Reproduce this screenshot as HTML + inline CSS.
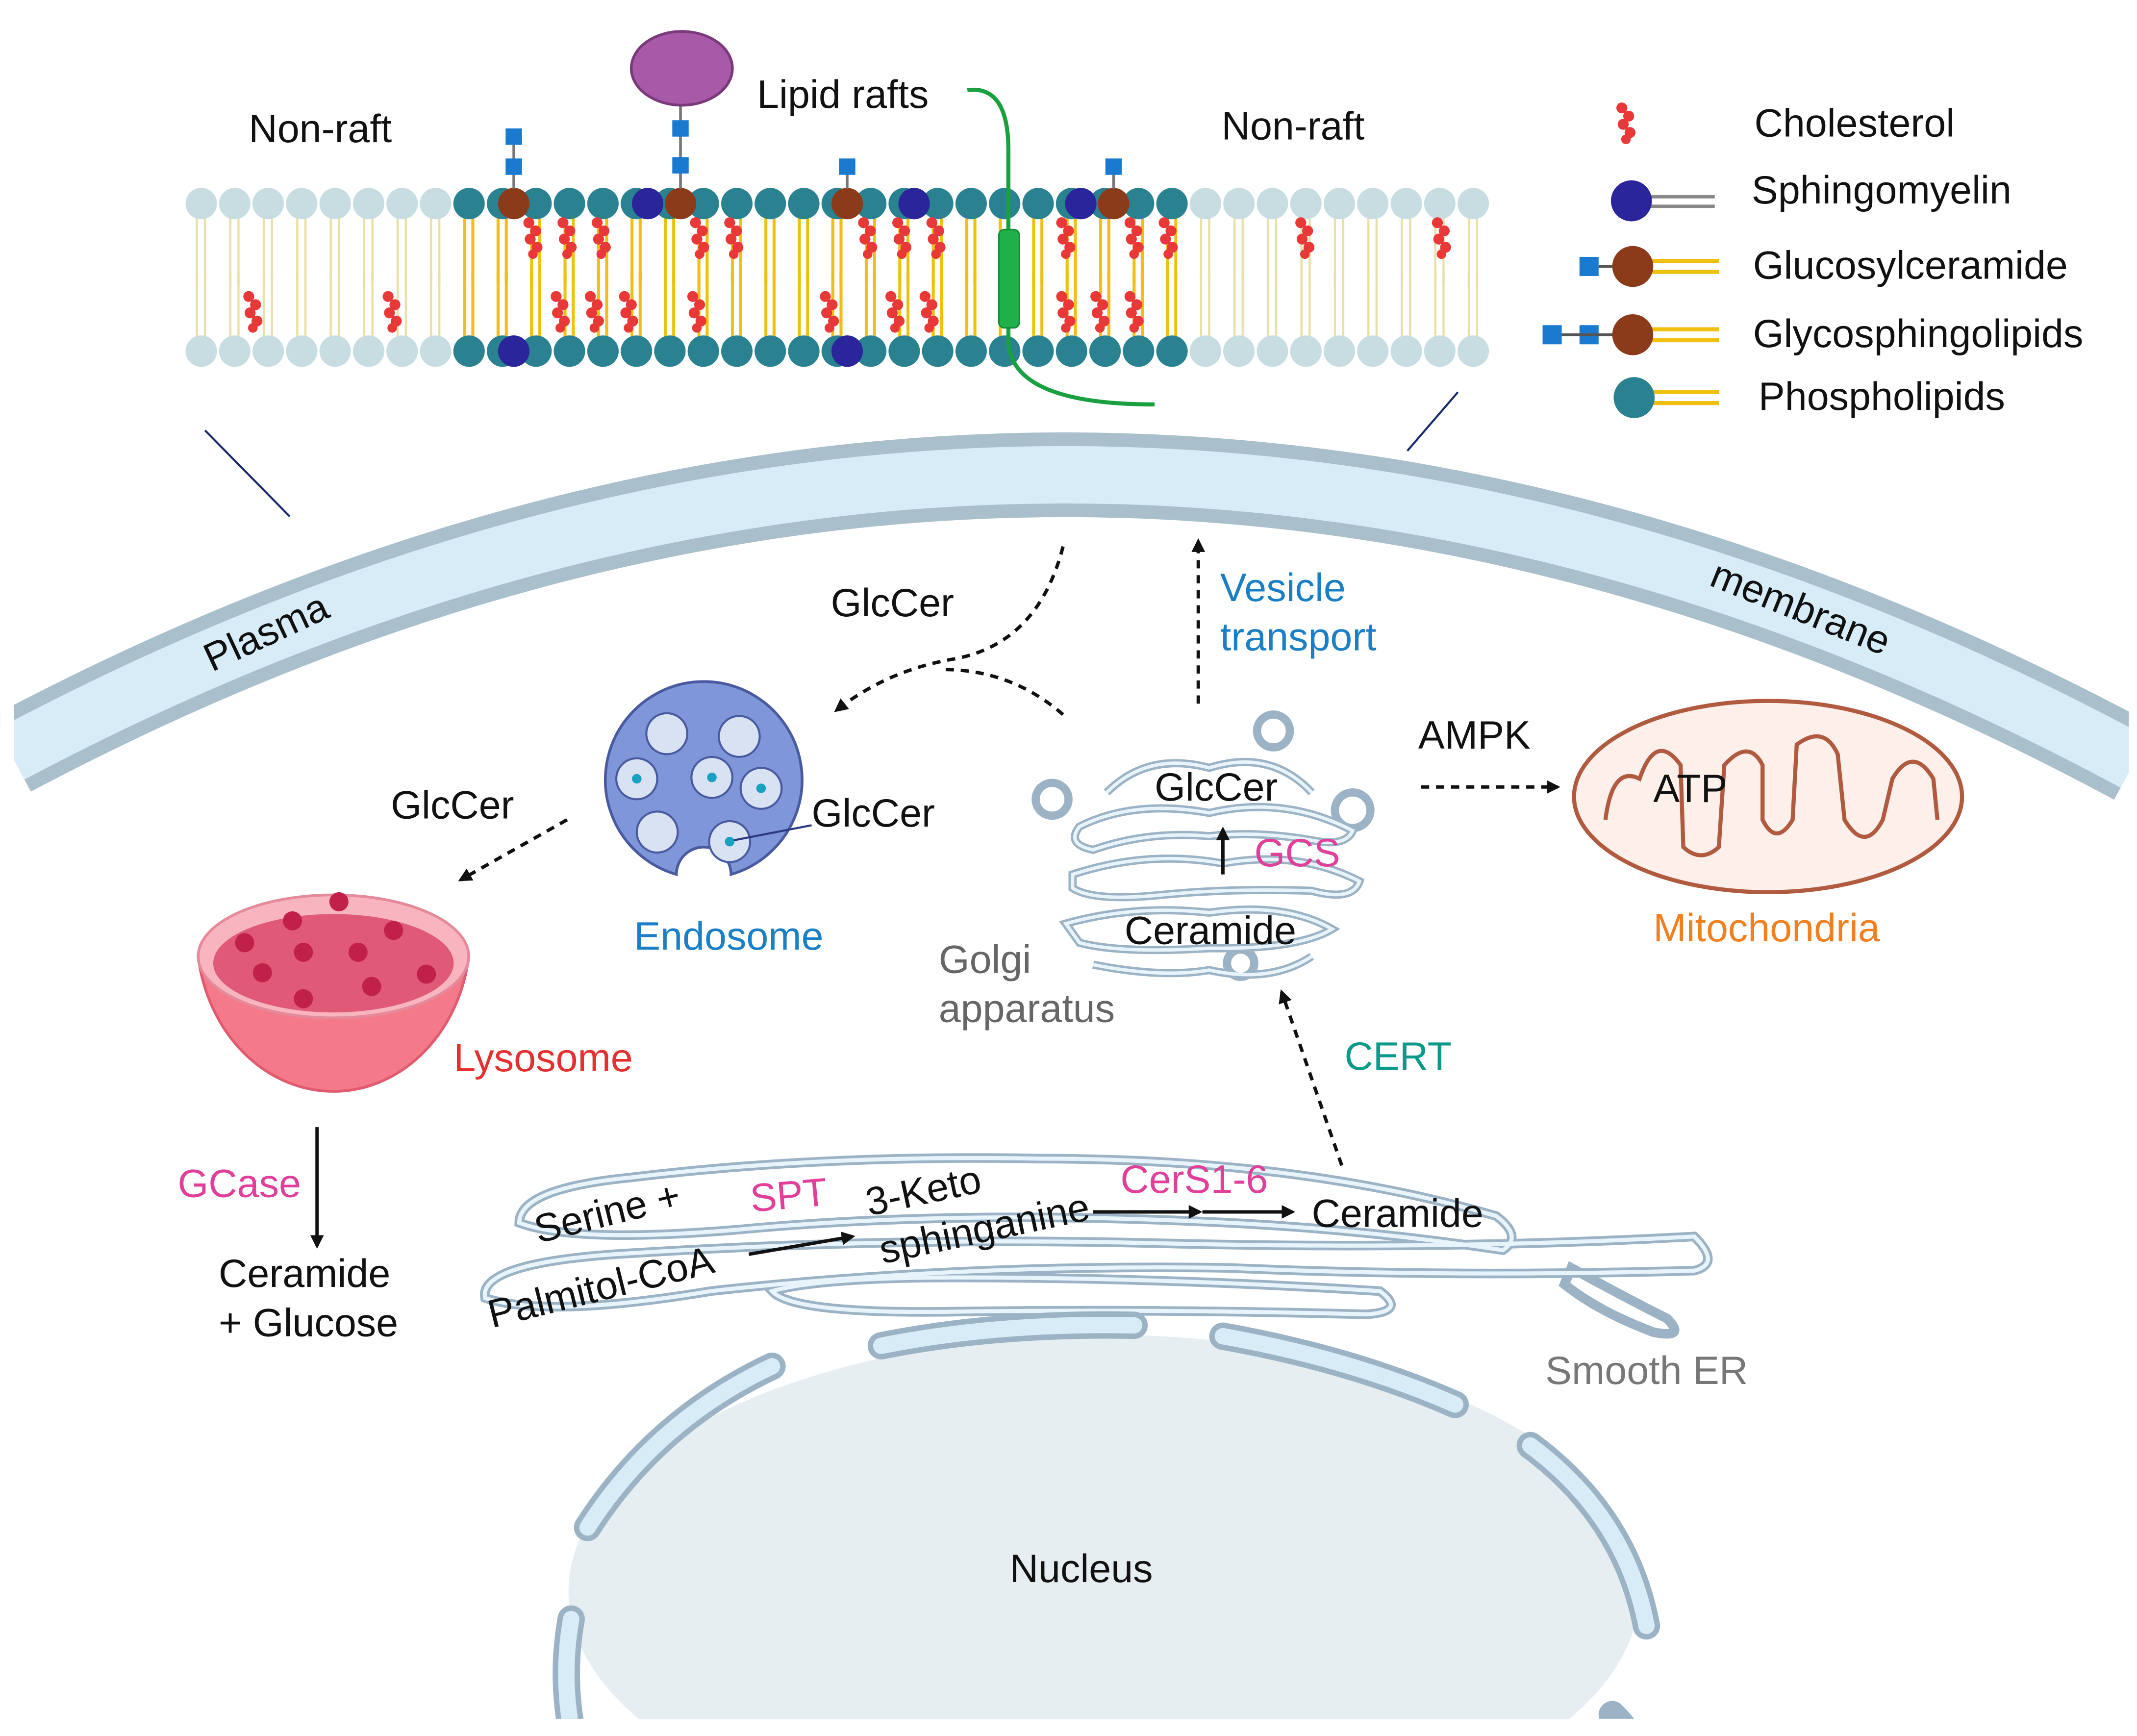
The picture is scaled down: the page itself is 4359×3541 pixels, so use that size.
<!DOCTYPE html>
<html><head><meta charset="utf-8"><style>
html,body{margin:0;padding:0;background:#fff;overflow:hidden;width:4359px;height:3541px;}
svg{display:block;}
text{font-family:"Liberation Sans",sans-serif;font-size:29px;fill:#111;}
</style></head><body>
<svg width="4359" height="3541" viewBox="0 0 1564 1270.6" xmlns="http://www.w3.org/2000/svg">
<defs>
<pattern id="tn" x="135" y="137" width="24.5" height="70" patternUnits="userSpaceOnUse">
<line x1="9" y1="20" x2="9" y2="70" stroke="#e9dfa8" stroke-width="1.6"/><line x1="15" y1="20" x2="15" y2="70" stroke="#e9dfa8" stroke-width="1.6"/>
<circle cx="12.25" cy="12" r="11.5" fill="#c7dde2"/></pattern>
<pattern id="tr" x="135" y="137" width="24.5" height="70" patternUnits="userSpaceOnUse">
<line x1="9" y1="20" x2="9" y2="70" stroke="#f0c010" stroke-width="2.2"/><line x1="15" y1="20" x2="15" y2="70" stroke="#f0c010" stroke-width="2.2"/>
<circle cx="12.25" cy="12" r="11.5" fill="#2a8190"/></pattern>
<pattern id="bn" x="135" y="200" width="24.5" height="70" patternUnits="userSpaceOnUse">
<line x1="9" y1="0" x2="9" y2="48" stroke="#e9dfa8" stroke-width="1.6"/><line x1="15" y1="0" x2="15" y2="48" stroke="#e9dfa8" stroke-width="1.6"/>
<circle cx="12.25" cy="57" r="11.5" fill="#c7dde2"/></pattern>
<pattern id="br" x="135" y="200" width="24.5" height="70" patternUnits="userSpaceOnUse">
<line x1="9" y1="0" x2="9" y2="48" stroke="#f0c010" stroke-width="2.2"/><line x1="15" y1="0" x2="15" y2="48" stroke="#f0c010" stroke-width="2.2"/>
<circle cx="12.25" cy="57" r="11.5" fill="#2a8190"/></pattern>
<symbol id="ch" viewBox="-10 -16 20 32" width="20" height="32">
<circle cx="-3" cy="-11" r="4" fill="#e83838"/><circle cx="2" cy="-5" r="4" fill="#e83838"/><circle cx="-2" cy="1" r="4" fill="#e83838"/><circle cx="3" cy="7" r="4" fill="#e83838"/><circle cx="0" cy="12" r="3.5" fill="#e83838"/></symbol>
<marker id="ar" markerWidth="10" markerHeight="10" refX="8" refY="5" orient="auto" markerUnits="userSpaceOnUse"><path d="M0,0 L10,5 L0,10 z" fill="#111"/></marker>
</defs>

<!-- plasma membrane -->
<path d="M8,552 Q785,140 1562,558" fill="none" stroke="#a9bfcc" stroke-width="62"/>
<path d="M8,552 Q785,140 1562,558" fill="none" stroke="#d8ecf8" stroke-width="42"/>
<rect x="0" y="480" width="10" height="160" fill="#fff"/>
<rect x="1558" y="480" width="10" height="160" fill="#fff"/>
<text x="155" y="492" transform="rotate(-25 155 492)" font-size="25">Plasma</text>
<text x="1250" y="428" transform="rotate(22 1250 428)" font-size="25">membrane</text>
<line x1="150" y1="315" x2="212" y2="378" stroke="#1a2a6a" stroke-width="1.5"/>
<line x1="1067" y1="287" x2="1030" y2="330" stroke="#1a2a6a" stroke-width="1.5"/>

<!-- bilayer -->
<rect x="135" y="137" width="196" height="70" fill="url(#tn)"/>
<rect x="331" y="137" width="539" height="70" fill="url(#tr)"/>
<rect x="870" y="137" width="220" height="70" fill="url(#tn)"/>
<rect x="135" y="200" width="196" height="70" fill="url(#bn)"/>
<rect x="331" y="200" width="539" height="70" fill="url(#br)"/>
<rect x="870" y="200" width="220" height="70" fill="url(#bn)"/>
<g fill="#8b3a1a"><circle cx="376" cy="149" r="11.5"/><circle cx="498" cy="149" r="11.5"/><circle cx="620" cy="149" r="11.5"/><circle cx="815" cy="149" r="11.5"/></g>
<g fill="#2a259a"><circle cx="474" cy="149" r="11.5"/><circle cx="669" cy="149" r="11.5"/><circle cx="791" cy="149" r="11.5"/><circle cx="376" cy="257" r="11.5"/><circle cx="620" cy="257" r="11.5"/></g>
<g stroke="#777" stroke-width="2"><line x1="376" y1="100" x2="376" y2="138"/><line x1="498" y1="75" x2="498" y2="138"/><line x1="620" y1="122" x2="620" y2="138"/><line x1="815" y1="122" x2="815" y2="138"/></g>
<g fill="#1a7ad0"><rect x="370" y="94" width="12" height="12"/><rect x="370" y="116" width="12" height="12"/><rect x="492" y="88" width="12" height="12"/><rect x="492" y="115" width="12" height="12"/><rect x="614" y="116" width="12" height="12"/><rect x="809" y="116" width="12" height="12"/></g>
<ellipse cx="499" cy="50" rx="37" ry="27" fill="#a85aa8" stroke="#7a3a7a" stroke-width="2"/>
<path d="M708,66 Q738,62 738,110 L738,250 Q740,296 845,296" fill="none" stroke="#1aa040" stroke-width="3"/>
<rect x="731" y="168" width="15" height="72" rx="4" fill="#1fb04a" stroke="#138a35"/>
<g>
<use href="#ch" x="380" y="158"/><use href="#ch" x="405" y="158"/><use href="#ch" x="430" y="158"/><use href="#ch" x="502" y="158"/><use href="#ch" x="527" y="158"/><use href="#ch" x="625" y="158"/><use href="#ch" x="650" y="158"/><use href="#ch" x="675" y="158"/><use href="#ch" x="770" y="158"/><use href="#ch" x="820" y="158"/><use href="#ch" x="845" y="158"/><use href="#ch" x="945" y="158"/><use href="#ch" x="1045" y="158"/>
<use href="#ch" x="175" y="212"/><use href="#ch" x="277" y="212"/><use href="#ch" x="400" y="212"/><use href="#ch" x="425" y="212"/><use href="#ch" x="450" y="212"/><use href="#ch" x="500" y="212"/><use href="#ch" x="597" y="212"/><use href="#ch" x="645" y="212"/><use href="#ch" x="670" y="212"/><use href="#ch" x="770" y="212"/><use href="#ch" x="795" y="212"/><use href="#ch" x="820" y="212"/>
</g>
<text x="182" y="104">Non-raft</text>
<text x="554" y="79">Lipid rafts</text>
<text x="894" y="102">Non-raft</text>

<!-- legend -->
<use href="#ch" x="1180" y="74"/>
<text x="1284" y="100">Cholesterol</text>
<line x1="1205" y1="144" x2="1255" y2="144" stroke="#888" stroke-width="2.5"/><line x1="1205" y1="151" x2="1255" y2="151" stroke="#888" stroke-width="2.5"/>
<circle cx="1194" cy="147" r="15" fill="#2a259a"/>
<text x="1282" y="149">Sphingomyelin</text>
<line x1="1205" y1="191" x2="1258" y2="191" stroke="#f0c010" stroke-width="3"/><line x1="1205" y1="199" x2="1258" y2="199" stroke="#f0c010" stroke-width="3"/>
<rect x="1156" y="188" width="14" height="14" fill="#1a7ad0"/><line x1="1170" y1="195" x2="1182" y2="195" stroke="#555" stroke-width="2"/>
<circle cx="1195" cy="195" r="15" fill="#8b3a1a"/>
<text x="1283" y="204">Glucosylceramide</text>
<line x1="1205" y1="241" x2="1258" y2="241" stroke="#f0c010" stroke-width="3"/><line x1="1205" y1="249" x2="1258" y2="249" stroke="#f0c010" stroke-width="3"/>
<rect x="1129" y="238" width="14" height="14" fill="#1a7ad0"/><rect x="1156" y="238" width="14" height="14" fill="#1a7ad0"/><line x1="1143" y1="245" x2="1182" y2="245" stroke="#555" stroke-width="2"/>
<circle cx="1195" cy="245" r="15" fill="#8b3a1a"/>
<text x="1283" y="254">Glycosphingolipids</text>
<line x1="1205" y1="287" x2="1258" y2="287" stroke="#f0c010" stroke-width="3"/><line x1="1205" y1="295" x2="1258" y2="295" stroke="#f0c010" stroke-width="3"/>
<circle cx="1196" cy="291" r="15" fill="#2a8190"/>
<text x="1287" y="300">Phospholipids</text>

<!-- arrows top -->
<path d="M778,400 Q760,470 700,482 Q650,490 612,520" fill="none" stroke="#111" stroke-width="2.5" stroke-dasharray="6,5" marker-end="url(#ar)"/>
<path d="M778,523 Q740,490 690,490" fill="none" stroke="#111" stroke-width="2.5" stroke-dasharray="6,5"/>
<text x="608" y="451">GlcCer</text>
<line x1="877" y1="515" x2="877" y2="396" stroke="#111" stroke-width="2.5" stroke-dasharray="6,5" marker-end="url(#ar)"/>
<text x="893" y="440" style="fill:#1a7fc4">Vesicle</text>
<text x="893" y="476" style="fill:#1a7fc4">transport</text>
<line x1="415" y1="600" x2="337" y2="644" stroke="#111" stroke-width="2.5" stroke-dasharray="6,5" marker-end="url(#ar)"/>
<text x="286" y="599">GlcCer</text>

<!-- endosome -->
<path d="M495,640 A72,72 0 1 1 535,640 A15,15 0 0 0 495,640 z" fill="#7f96d8" stroke="#4a5aa0" stroke-width="2"/>
<g fill="#d8e2f2" stroke="#4a5aa0" stroke-width="1.5">
<circle cx="488" cy="537" r="15"/><circle cx="541" cy="539" r="15"/><circle cx="466" cy="570" r="15"/><circle cx="521" cy="569" r="15"/><circle cx="557" cy="577" r="15"/><circle cx="481" cy="609" r="15"/><circle cx="534" cy="616" r="15"/></g>
<g fill="#1aa0c0"><circle cx="466" cy="570" r="3.5"/><circle cx="521" cy="569" r="3.5"/><circle cx="557" cy="577" r="3.5"/><circle cx="534" cy="616" r="3.5"/></g>
<line x1="537" y1="615" x2="594" y2="604" stroke="#2a3a80" stroke-width="1.5"/>
<text x="594" y="605">GlcCer</text>
<text x="464" y="695" style="fill:#1a7fc4">Endosome</text>

<!-- lysosome -->
<path d="M145,700 A100,115 0 0 0 343,700 z" fill="#f47a8a" stroke="#e05a70" stroke-width="2"/>
<ellipse cx="244" cy="700" rx="99" ry="45" fill="#f8b5bf" stroke="#e58a9a" stroke-width="2"/>
<ellipse cx="244" cy="705" rx="88" ry="36" fill="#e05a78"/>
<g fill="#c0204a"><circle cx="248" cy="660" r="7"/><circle cx="179" cy="690" r="7"/><circle cx="214" cy="674" r="7"/><circle cx="288" cy="681" r="7"/><circle cx="222" cy="697" r="7"/><circle cx="262" cy="697" r="7"/><circle cx="192" cy="712" r="7"/><circle cx="272" cy="722" r="7"/><circle cx="312" cy="713" r="7"/><circle cx="222" cy="731" r="7"/></g>
<text x="332" y="784" style="fill:#e53030">Lysosome</text>
<text x="130" y="876" style="fill:#e0409a">GCase</text>
<line x1="232" y1="825" x2="232" y2="912" stroke="#111" stroke-width="2.5" marker-end="url(#ar)"/>
<text x="160" y="942">Ceramide</text>
<text x="160" y="978">+ Glucose</text>

<!-- golgi -->
<g fill="#fff" stroke="#9bb3c4" stroke-width="6">
<path d="M810,580 Q840,550 885,562 Q930,548 960,580" fill="none"/>
<path d="M790,605 Q830,585 885,595 Q940,582 990,608 Q985,620 960,615 Q920,608 885,612 Q840,608 800,622 Q780,618 790,605 z" fill="none"/>
<path d="M785,640 Q840,622 895,632 Q950,622 995,645 Q990,660 960,652 Q900,650 850,655 Q800,660 785,650 z" fill="none"/>
<path d="M780,676 Q830,662 885,668 Q940,660 975,680 Q950,695 885,694 Q820,698 790,690 z" fill="none"/>
<path d="M800,706 Q850,716 885,710 Q930,720 960,700" fill="none"/>
<circle cx="770" cy="585" r="12"/><circle cx="932" cy="535" r="12"/><circle cx="990" cy="593" r="13"/><circle cx="908" cy="705" r="10"/>
</g>
<g fill="none" stroke="#e8f4fb" stroke-width="2.5">
<path d="M810,580 Q840,550 885,562 Q930,548 960,580"/>
<path d="M790,605 Q830,585 885,595 Q940,582 990,608 Q985,620 960,615 Q920,608 885,612 Q840,608 800,622 Q780,618 790,605 z"/>
<path d="M785,640 Q840,622 895,632 Q950,622 995,645 Q990,660 960,652 Q900,650 850,655 Q800,660 785,650 z"/>
<path d="M780,676 Q830,662 885,668 Q940,660 975,680 Q950,695 885,694 Q820,698 790,690 z"/>
<path d="M800,706 Q850,716 885,710 Q930,720 960,700"/>
</g>
<text x="845" y="586">GlcCer</text>
<line x1="895" y1="640" x2="895" y2="607" stroke="#111" stroke-width="2.5" marker-end="url(#ar)"/>
<text x="918" y="634" style="fill:#e0409a">GCS</text>
<text x="823" y="691">Ceramide</text>
<text x="687" y="712" style="fill:#666">Golgi</text>
<text x="687" y="748" style="fill:#666">apparatus</text>

<!-- AMPK / mito -->
<text x="1038" y="548">AMPK</text>
<line x1="1040" y1="576" x2="1140" y2="576" stroke="#111" stroke-width="2.5" stroke-dasharray="6,5" marker-end="url(#ar)"/>
<ellipse cx="1294" cy="583" rx="142" ry="70" fill="#fdf0ea" stroke="#b05a40" stroke-width="3"/>
<path d="M1175,600 Q1180,560 1200,570 Q1212,535 1230,560 L1232,620 Q1245,632 1258,620 L1262,560 Q1280,540 1290,560 L1290,600 Q1300,620 1312,600 L1315,545 Q1335,530 1345,552 L1350,600 Q1365,625 1378,600 L1385,570 Q1400,545 1415,570 L1418,600" fill="none" stroke="#b05a40" stroke-width="3"/>
<text x="1210" y="587">ATP</text>
<text x="1210" y="689" style="fill:#f08020">Mitochondria</text>

<!-- CERT -->
<line x1="982" y1="853" x2="938" y2="726" stroke="#111" stroke-width="2.5" stroke-dasharray="6,5" marker-end="url(#ar)"/>
<text x="984" y="783" style="fill:#0a9a8a">CERT</text>

<!-- ER -->
<g fill="none" stroke="#9bb3c4" stroke-width="7">
<path d="M380,895 Q380,870 460,862 Q600,845 760,848 Q950,848 1095,890 Q1115,905 1100,915 Q1000,900 900,895 Q700,885 540,900 Q420,910 380,895 z"/>
<path d="M355,950 Q350,925 450,918 Q650,905 850,910 Q1060,915 1240,905 Q1260,925 1240,930 Q1060,935 900,928 Q700,925 520,945 Q400,965 355,950 z"/>
<path d="M565,945 Q600,935 700,935 Q850,935 1010,945 Q1030,960 1000,962 Q850,958 700,960 Q580,962 565,945 z"/>
<path d="M1150,928 Q1190,950 1220,965 Q1235,980 1210,975 Q1170,960 1145,940 z"/>
</g>
<g fill="none" stroke="#e8f4fb" stroke-width="3">
<path d="M380,895 Q380,870 460,862 Q600,845 760,848 Q950,848 1095,890 Q1115,905 1100,915 Q1000,900 900,895 Q700,885 540,900 Q420,910 380,895 z"/>
<path d="M355,950 Q350,925 450,918 Q650,905 850,910 Q1060,915 1240,905 Q1260,925 1240,930 Q1060,935 900,928 Q700,925 520,945 Q400,965 355,950 z"/>
<path d="M565,945 Q600,935 700,935 Q850,935 1010,945 Q1030,960 1000,962 Q850,958 700,960 Q580,962 565,945 z"/>
</g>
<text x="394" y="910" transform="rotate(-14 394 910)">Serine +</text>
<text x="550" y="887" style="fill:#e0409a" transform="rotate(-5 550 887)">SPT</text>
<text x="636" y="890" transform="rotate(-12 636 890)">3-Keto</text>
<text x="646" y="925" transform="rotate(-12 646 925)">sphinganine</text>
<text x="820" y="873" style="fill:#e0409a">CerS1-6</text>
<text x="960" y="898">Ceramide</text>
<text x="360" y="972" transform="rotate(-14 360 972)">Palmitol-CoA</text>
<line x1="548" y1="918" x2="624" y2="905" stroke="#111" stroke-width="2.5" marker-end="url(#ar)"/>
<line x1="800" y1="887" x2="878" y2="887" stroke="#111" stroke-width="2.5" marker-end="url(#ar)"/>
<line x1="880" y1="887" x2="946" y2="887" stroke="#111" stroke-width="2.5" marker-end="url(#ar)"/>
<text x="1131" y="1013" style="fill:#777">Smooth ER</text>

<!-- nucleus -->
<clipPath id="nc"><rect x="0" y="0" width="1564" height="1258"/></clipPath>
<g clip-path="url(#nc)">
<ellipse cx="808" cy="1165" rx="392" ry="188" fill="#e6eef2"/>
<g fill="none" stroke="#9bb3c4" stroke-width="20" stroke-linecap="round">
<path d="M430,1118 Q480,1040 565,1000"/>
<path d="M645,985 Q730,968 830,970"/>
<path d="M895,978 Q990,995 1065,1028"/>
<path d="M1120,1058 Q1190,1110 1205,1190"/>
<path d="M418,1185 Q410,1230 420,1275"/>
<path d="M1180,1255 Q1190,1265 1195,1275"/>
</g>
<g fill="none" stroke="#d8ecf8" stroke-width="12" stroke-linecap="round">
<path d="M430,1118 Q480,1040 565,1000"/>
<path d="M645,985 Q730,968 830,970"/>
<path d="M895,978 Q990,995 1065,1028"/>
<path d="M1120,1058 Q1190,1110 1205,1190"/>
<path d="M418,1185 Q410,1230 420,1275"/>
</g>
</g>
<text x="739" y="1158">Nucleus</text>
</svg>
</body></html>
